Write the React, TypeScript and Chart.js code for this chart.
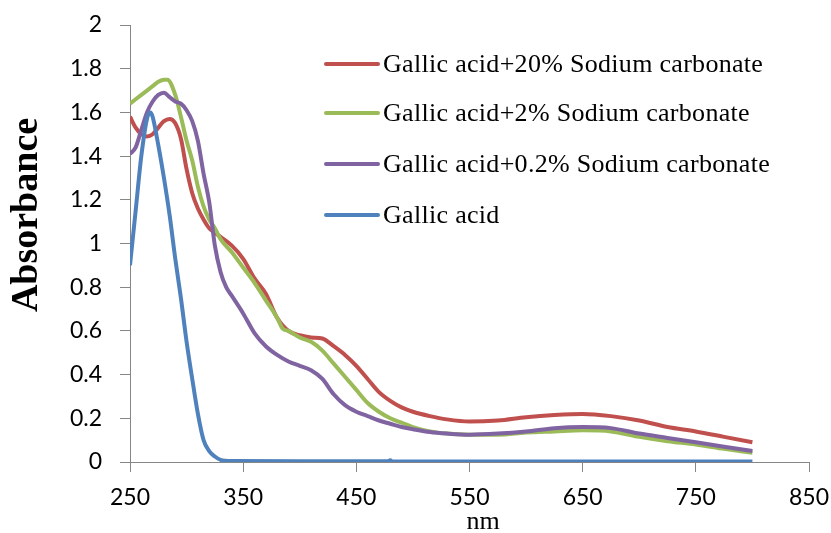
import React, { useEffect, useRef } from "react";
import { Chart, registerables } from "chart.js";

Chart.register(...registerables);

const wavelengths20 = [250, 255, 260, 265, 270, 275, 280, 285, 290, 295, 300, 305, 310, 315, 320, 325, 330, 340, 350, 360, 370, 380, 390, 400, 410, 420, 430, 440, 450, 460, 470, 480, 490, 500, 515, 530, 550, 575, 600, 625, 650, 675, 700, 725, 750, 775, 800];
const sodium20 = [1.58, 1.53, 1.5, 1.49, 1.5, 1.53, 1.56, 1.57, 1.55, 1.48, 1.34, 1.23, 1.16, 1.11, 1.07, 1.05, 1.03, 0.99, 0.93, 0.84, 0.77, 0.66, 0.6, 0.58, 0.57, 0.565, 0.53, 0.49, 0.44, 0.38, 0.32, 0.28, 0.25, 0.23, 0.21, 0.195, 0.185, 0.19, 0.205, 0.215, 0.22, 0.21, 0.19, 0.16, 0.14, 0.115, 0.09];

const wavelengths2 = [250, 260, 270, 275, 280, 283, 290, 295, 300, 305, 310, 315, 320, 325, 330, 340, 350, 360, 370, 380, 385, 390, 400, 410, 420, 430, 440, 450, 460, 470, 480, 490, 500, 515, 530, 550, 575, 600, 625, 650, 675, 700, 725, 750, 775, 800];
const sodium2 = [1.64, 1.68, 1.72, 1.74, 1.75, 1.75, 1.68, 1.58, 1.47, 1.38, 1.26, 1.17, 1.11, 1.07, 1.02, 0.96, 0.89, 0.82, 0.74, 0.66, 0.61, 0.6, 0.57, 0.55, 0.51, 0.45, 0.39, 0.33, 0.27, 0.23, 0.2, 0.18, 0.16, 0.14, 0.13, 0.125, 0.125, 0.135, 0.14, 0.145, 0.14, 0.115, 0.095, 0.08, 0.06, 0.042];

const wavelengths02 = [250, 255, 260, 265, 270, 275, 280, 285, 290, 295, 300, 305, 310, 315, 320, 325, 330, 335, 340, 350, 360, 370, 380, 390, 400, 410, 420, 430, 440, 450, 460, 470, 480, 490, 500, 515, 530, 550, 575, 600, 625, 650, 675, 700, 725, 750, 775, 800];
const sodium02 = [1.41, 1.44, 1.52, 1.6, 1.65, 1.68, 1.69, 1.67, 1.65, 1.64, 1.61, 1.56, 1.47, 1.32, 1.19, 0.99, 0.87, 0.8, 0.76, 0.68, 0.59, 0.53, 0.49, 0.46, 0.44, 0.42, 0.38, 0.31, 0.26, 0.23, 0.21, 0.19, 0.175, 0.16, 0.15, 0.137, 0.13, 0.125, 0.13, 0.14, 0.155, 0.16, 0.155, 0.13, 0.11, 0.09, 0.07, 0.05];

const wavelengthsGA = [250, 255, 260, 265, 268, 270, 275, 280, 285, 290, 295, 300, 305, 310, 315, 320, 325, 330, 340, 400, 478, 480, 482, 550, 650, 800];
const gallicAcid = [0.9, 1.15, 1.4, 1.57, 1.6, 1.58, 1.45, 1.3, 1.13, 0.93, 0.75, 0.55, 0.38, 0.22, 0.1, 0.05, 0.025, 0.01, 0.005, 0.004, 0.004, 0.008, 0.002, 0.002, 0.002, 0.002];

const seriesLabels = [
  "Gallic acid+20% Sodium carbonate",
  "Gallic acid+2% Sodium carbonate",
  "Gallic acid+0.2% Sodium carbonate",
  "Gallic acid",
];
const seriesColors = ["#C0504D", "#9BBB59", "#8064A2", "#4F81BD"];

const xTitle = "nm";
const yTitle = "Absorbance";

const toPoints = (xs: number[], ys: number[]) => xs.map((x, i) => ({ x, y: ys[i] }));

const overlayPlugin = {
  id: "overlay",
  afterDraw(chart: any) {
    const ctx = chart.ctx;
    ctx.save();
    // legend
    const rows = [64, 113, 164, 215];
    chart.data.datasets.forEach((ds: any, i: number) => {
      const y = rows[i];
      ctx.strokeStyle = ds.borderColor;
      ctx.lineWidth = 4;
      ctx.lineCap = "round";
      ctx.beginPath();
      ctx.moveTo(326, y);
      ctx.lineTo(378, y);
      ctx.stroke();
      ctx.fillStyle = "#000";
      ctx.font = "26px 'Liberation Serif'";
      try {
        ctx.letterSpacing = "0.3px";
      } catch (e) {}
      ctx.textAlign = "left";
      ctx.textBaseline = "middle";
      ctx.fillText(ds.label, 383, y + 1);
      try {
        ctx.letterSpacing = "0px";
      } catch (e) {}
    });
    // y title
    ctx.save();
    ctx.translate(27, 215);
    ctx.rotate(-Math.PI / 2);
    ctx.font = "bold 38px 'Liberation Serif'";
    ctx.textAlign = "center";
    ctx.textBaseline = "middle";
    ctx.fillStyle = "#000";
    ctx.fillText(yTitle, 0, 0);
    ctx.restore();
    // x title
    ctx.font = "26px 'Liberation Serif'";
    ctx.textAlign = "center";
    ctx.textBaseline = "middle";
    ctx.fillStyle = "#000";
    ctx.fillText(xTitle, 483, 522);
    ctx.restore();
  },
};

export default function App() {
  const canvasRef = useRef<HTMLCanvasElement | null>(null);

  useEffect(() => {
    if (!canvasRef.current) return;
    const xs = [wavelengths20, wavelengths2, wavelengths02, wavelengthsGA];
    const ys = [sodium20, sodium2, sodium02, gallicAcid];
    const chart = new Chart(canvasRef.current, {
      type: "line",
      data: {
        datasets: seriesLabels.map((label, i) => ({
          label,
          data: toPoints(xs[i], ys[i]),
          borderColor: seriesColors[i],
          backgroundColor: seriesColors[i],
          borderWidth: 4,
          pointRadius: 0,
          cubicInterpolationMode: "monotone" as const,
          order: 4 - i,
        })),
      },
      options: {
        responsive: false,
        animation: false,
        layout: { padding: { left: 0, right: 22, top: 25, bottom: 0 } },
        plugins: {
          legend: { display: false },
          tooltip: { enabled: false },
        },
        scales: {
          x: {
            type: "linear",
            min: 250,
            max: 850,
            ticks: {
              stepSize: 100,
              color: "#000",
              font: { family: "Lato", size: 23 },
              padding: 12,
              maxRotation: 0,
            },
            grid: { drawOnChartArea: false, tickLength: 10, color: "#868686", lineWidth: 1 },
            border: { color: "#868686", width: 1 },
            afterFit: (scale: any) => {
              scale.height = 71;
              scale.paddingRight = 0;
              scale.paddingLeft = 0;
            },
          },
          y: {
            min: 0,
            max: 2,
            ticks: {
              stepSize: 0.2,
              color: "#000",
              font: { family: "Lato", size: 23 },
              padding: 18,
              callback: (v: any) => String(Number(Number(v).toFixed(1))),
            },
            grid: { drawOnChartArea: false, tickLength: 10, color: "#868686", lineWidth: 1 },
            border: { color: "#868686", width: 1 },
            afterFit: (scale: any) => {
              scale.width = 130;
              scale.paddingTop = 0;
              scale.paddingBottom = 0;
            },
          },
        },
      },
      plugins: [overlayPlugin],
    });
    return () => chart.destroy();
  }, []);

  return (
    <div style={{ position: "absolute", left: 0, top: 0, width: 831, height: 533, background: "#fff" }}>
      <canvas ref={canvasRef} width={831} height={533} style={{ width: 831, height: 533, display: "block" }} />
    </div>
  );
}
